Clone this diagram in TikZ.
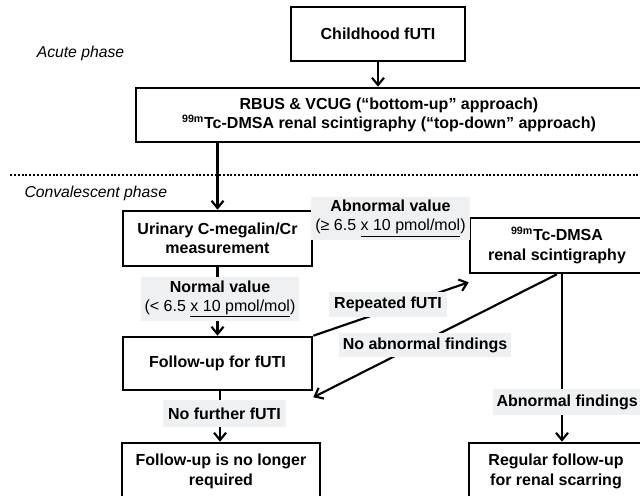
\documentclass[tikz,border=0pt]{standalone}
\usepackage{fontspec}
\setmainfont{Liberation Sans}
\usetikzlibrary{arrows.meta}
\definecolor{lblgray}{RGB}{238,240,242}
\tikzset{every picture/.style={line width=0.75pt}}
\tikzset{
  flowbox/.style={draw, line width=1.9pt, fill=white, align=center, inner sep=0pt,
    font=\bfseries\fontsize{12}{14.5}\selectfont},
  caselabel/.style={fill=lblgray, align=center, inner sep=0pt,
    font=\bfseries\fontsize{12}{14.5}\selectfont},
  phase/.style={inner sep=0pt, font=\itshape\fontsize{11.8}{14}\selectfont},
  flowarr/.style={line width=1.6pt, -{Straight Barb[length=5.5pt,width=9pt]}},
}

\begin{document}
\begin{tikzpicture}[x=0.75pt,y=0.75pt,yscale=-1,xscale=1]
\useasboundingbox (0,0) rectangle (640,496);
\clip (0,0) rectangle (640,496);

%Shape: Rectangle
\node [flowbox, minimum width=130.5pt, minimum height=40.5pt] (child) at (378,34) {Childhood fUTI};
%Shape: Rectangle
\node [flowbox, minimum width=379.5pt, minimum height=40.5pt] (rbus) at (389,115)
  {RBUS \& VCUG (“bottom-up” approach)\\\textsuperscript{99m}Tc-DMSA renal scintigraphy (“top-down” approach)};
%Shape: Rectangle
\node [flowbox, minimum width=141.75pt, minimum height=41.25pt] (urinary) at (217.5,238.5)
  {Urinary C-megalin/Cr\\measurement};
%Shape: Rectangle
\node [flowbox, minimum width=130.5pt, minimum height=41.25pt] (dmsa) at (557,245.5)
  {\textsuperscript{99m}Tc-DMSA\\renal scintigraphy};
%Shape: Rectangle
\node [flowbox, minimum width=141.75pt, minimum height=39.75pt] (follow) at (217.5,363.5)
  {Follow-up for fUTI};
%Shape: Rectangle
\node [flowbox, minimum width=148.5pt, minimum height=42.75pt] (done) at (221,471.5)
  {Follow-up is no longer\\required};
%Shape: Rectangle
\node [flowbox, minimum width=130.5pt, minimum height=42.75pt] (regular) at (556,471.5)
  {Regular follow-up\\for renal scarring};

% Text Node
\node [phase] (acute) at (80.5,53) {Acute phase};
% Text Node
\node [phase, anchor=west] (conv) at (24,193) {Convalescent phase};

%Straight Lines
\draw [line width=1.5pt, dash pattern=on 1.5pt off 1.4pt] (10,175) -- (645,175);

%Straight Lines
\draw [flowarr] (child.south) -- (child.south |- rbus.north);
\draw [flowarr] (rbus.south -| urinary.north) -- (urinary.north);
\coordinate (abnout) at ([yshift=-8.6pt]urinary.east);
\draw [flowarr] (abnout) -- (abnout -| dmsa.west);
\draw [flowarr] (urinary.south) -- (follow.north);
\draw [flowarr] (follow.north east) -- ([yshift=6pt]dmsa.south west);
\draw [flowarr] (dmsa.south) -- ([yshift=4.5pt]follow.south east);
\coordinate (ffoot) at ([xshift=1.9pt]follow.south);
\draw [flowarr] (ffoot) -- (ffoot |- done.north);
\coordinate (dfoot) at ([xshift=3.75pt]dmsa.south);
\draw [flowarr] (dfoot) -- (dfoot |- regular.north);

% Text Node
\node [caselabel, minimum width=119.25pt, minimum height=32.25pt] (abnval) at (390.5,218.5)
  {Abnormal value\\{\mdseries(≥ 6.5 \underline{x 10 pmol/mol})}};
% Text Node
\node [caselabel, minimum width=118.5pt, minimum height=33pt] (normval) at (220,299)
  {Normal value\\{\mdseries(< 6.5 \underline{x 10 pmol/mol})}};
% Text Node
\node [caselabel, minimum width=88.5pt, minimum height=18.75pt] (repeat) at (388,304.5) {Repeated fUTI};
% Text Node
\node [caselabel, minimum width=129pt, minimum height=18pt] (noabn) at (425,345) {No abnormal findings};
% Text Node
\node [caselabel, minimum width=92.25pt, minimum height=20.25pt] (nofurther) at (224.5,413.5) {No further fUTI};
% Text Node
\node [caselabel, anchor=west, inner xsep=3pt, minimum height=19.5pt] (abnfind) at (492,402) {Abnormal findings};
\end{tikzpicture}
\end{document}
